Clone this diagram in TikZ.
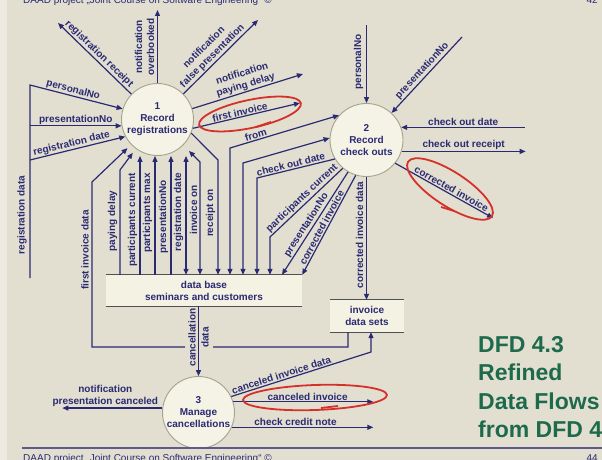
\documentclass[tikz,border=0pt]{standalone}
\usepackage{fontspec}
\setmainfont{Liberation Sans}
\usetikzlibrary{arrows.meta,calc}

\definecolor{bg}{HTML}{E2DFD1}
\definecolor{strip}{HTML}{ECEAE1}
\definecolor{ink}{HTML}{2A2A72}
\definecolor{bubble}{HTML}{F5F3E6}
\definecolor{rim}{HTML}{A5A28C}
\definecolor{shelf}{HTML}{F4F2E3}
\definecolor{shelfline}{HTML}{4F4F55}
\definecolor{marker}{HTML}{D6302A}
\definecolor{titlegreen}{HTML}{1E6A4C}
\definecolor{footline}{HTML}{5E5A8E}

\begin{document}
\begin{tikzpicture}[x=1pt, y=-1pt,
  every node/.style={font=\bfseries\fontsize{10}{12}\selectfont, text=ink, inner sep=1pt},
  process/.style={circle, draw=rim, line width=0.9pt, fill=bubble, minimum size=72pt,
                  inner sep=0pt, align=center},
  datastore/.style={rectangle, fill=shelf, inner sep=0pt, align=center},
  shelfedge/.style={draw=shelfline, line width=1.3pt},
  flow/.style={draw=ink, line width=1.2pt, -{Triangle[length=6pt,width=5pt]}},
  flowboth/.style={draw=ink, line width=1.2pt,
                   {Triangle[length=6pt,width=5pt]}-{Triangle[length=6pt,width=5pt]}},
  vlabel/.style={rotate=90, anchor=south},
  ring/.style={draw=marker, line width=1.8pt},
  slidetext/.style={font=\fontsize{10}{12}\selectfont, text=ink, inner sep=0pt},
  headline/.style={font=\bfseries\fontsize{23}{28}\selectfont, text=titlegreen,
                   inner sep=0pt, anchor=base west},
]
\useasboundingbox (0,0) rectangle (602,460);
\fill[bg] (0,0) rectangle (602,460);
\fill[strip] (0,0) rectangle (7,460);

\begin{scope}
\clip (0,0) rectangle (602,460);

% slide header
\node[slidetext, anchor=base west] (hdr) at (23,3.5) {DAAD project „Joint Course on Software Engineering“ ©};
\node[slidetext, anchor=base east] (hdrno) at (598,3.5) {42};

% title block
\node[headline] (t1) at (478,352) {DFD 4.3};
\node[headline] (t2) at (478,380) {Refined};
\node[headline] (t3) at (478,409) {Data Flows};
\node[headline] (t4) at (478,437) {from DFD 4};

% data stores
\node[datastore, minimum width=196pt, minimum height=31pt] (db) at (204,290.5)
  {data base\\seminars and customers};
\node[datastore, minimum width=74pt, minimum height=32pt] (inv) at (367,316)
  {invoice\\data sets};
\draw[shelfedge] (db.north west) -- (db.north east) (db.south west) -- (db.south east);
\draw[shelfedge] (inv.north west) -- (inv.north east) (inv.south west) -- (inv.south east);

% processes
\node[process] (c1) at (157.5,119.5) {1\\Record\\registrations};
\node[process, minimum size=73pt] (c2) at (366.5,140) {2\\Record\\check outs};
\node[process] (c3) at (198.5,412.5) {3\\Manage\\cancellations};

% free ends and bends
\coordinate (rrOut) at (58,23);
\coordinate (obOut) at (157.5,10);
\coordinate (fpOut) at (258,20);
\coordinate (pdOut) at (303,74);
\coordinate (fiOut) at (300,103);
\coordinate (rdTop) at (30,85);
\coordinate (rdBot) at (30,278);
\coordinate (rdDate) at (30,160);
\coordinate (pn2In) at (366.5,25);
\coordinate (pr2In) at (462,37);
\coordinate (codIn) at ($(c2.20)+(124,0)$);
\coordinate (corOut) at ($(c2.-18)+(124,0)$);
\coordinate (ciOut) at (493,218);
\coordinate (npcOut) at ($(c3.173)+(-100,0)$);
\coordinate (cinvOut) at ($(c3.17)+(140,0)$);
\coordinate (ccnOut) at ($(c3.-24)+(141.5,0)$);
\coordinate (fiBend) at (92,182);
\coordinate (fiLow) at (92,347);
\coordinate (fiCorner) at (348,347);
\coordinate (pdBend) at (120,170);
\coordinate (ioBend) at (200,162);
\coordinate (roBend) at (218,160);
\coordinate (frBend) at (230,148);
\coordinate (unBend) at (243,163);
\coordinate (cdBend) at (257,178);
\coordinate (pcBend) at (270,237);
\coordinate (cidBend) at (371,352);

% flows of process 1
\draw[flow] (c1) -- node[pos=0.5, above, sloped]{registration receipt} (rrOut);
\draw[flow] (c1) -- (obOut);
\node[vlabel, align=center] at (155.5,47) {notification\\overbooked};
\draw[flow] (c1) -- node[pos=0.45, above, sloped, align=center]{notification\\false presentation} (fpOut);
\draw[flow] (c1) -- node[pos=0.5, above, sloped, align=center]{notification\\paying delay} (pdOut);
\draw[flow] (c1.-14) -- node[pos=0.45, above, sloped, inner sep=0.5pt]{first invoice} (fiOut);

\draw[flow] (rdBot) -- (rdTop) -- node[pos=0.45, above, sloped, inner sep=0.5pt]{personalNo} (c1.163);
\draw[flow] (rdTop |- c1.190) -- node[above]{presentationNo} (c1.190);
\draw[flow] (rdDate) -- node[pos=0.45, above, sloped, inner sep=0.5pt]{registration date} (c1.208);
\node[vlabel] at (28,215) {registration data};

\draw[flow, shorten >=5pt] (inv.south -| fiCorner) -- (fiCorner) -- (213,347)
      (185,347) -- (fiLow) -- (fiBend) -- (c1);
\node[vlabel] at (90,250) {first invoice data};

\draw[flow, shorten >=5pt] (db.north -| pdBend) -- (pdBend) -- (c1);
\node[vlabel] at (118.5,221) {paying delay};
\draw[flow] (db.north -| 140,0) -- (c1.south -| 140,0);
\node[vlabel] at (138.5,220) {participants current};
\draw[flow] (db.north -| 155,0) -- (c1.south -| 155,0);
\node[vlabel] at (153.5,213) {participants max};
\draw[flow] (db.north -| 171,0) -- (c1.south -| 171,0);
\node[vlabel] at (169.5,217) {presentationNo};
\draw[flowboth] (db.north -| 186,0) -- (c1.south -| 186,0);
\node[vlabel] at (184.5,212) {registration date};
\draw[flowboth, shorten >=8pt] (db.north -| ioBend) -- (ioBend) -- (c1);
\node[vlabel] at (198.5,210) {invoice on};
\draw[flow] (c1.-22) -- (roBend) -- (db.north -| roBend);
\node[vlabel] at (216.5,213) {receipt on};

% flows of process 2
\draw[flowboth] (db.north -| frBend) -- (frBend) -- node[pos=0.25, above, sloped]{from} (c2.138);
\draw[flowboth] (db.north -| unBend) -- (unBend) -- (c2.177);
\draw[flow] (c2.211) -- node[pos=0.55, above, sloped]{check out date} (cdBend) -- (db.north -| cdBend);
\draw[flow] (c2.230) -- node[pos=0.5, above, sloped]{participants current} (pcBend) -- (db.north -| pcBend);
\draw[flow] (c2.240) -- node[pos=0.55, above, sloped]{presentationNo} (db.north -| 282,0);
\draw[flow] (c2.253) -- node[pos=0.55, above, sloped]{corrected invoice} (db.north east);

\draw[flow] (pn2In) -- (c2);
\node[vlabel] at (364.5,62) {personalNo};
\draw[flow] (pr2In) -- node[pos=0.5, above, sloped]{presentationNo} (c2);
\draw[flow] (codIn) -- node[midway, above]{check out date} (c2.20);
\draw[flow] (c2.-18) -- node[midway, above]{check out receipt} (corOut);
\draw[flow] (c2.-39) -- node[pos=0.55, above, sloped]{corrected invoice} (ciOut);
\draw[flow] (c2.south) -- (c2.south |- inv.north);
\node[vlabel] at (364.5,235) {corrected invoice data};

% flows of process 3
\draw[flow] (db.south -| c3.north) -- node[pos=0.45, rotate=90, align=center,
      font=\bfseries\fontsize{10}{13}\selectfont]{cancellation\\data} (c3.north);
\draw[flow] (c3.26) -- node[pos=0.37, above, sloped]{canceled invoice data} (cidBend) -- (inv.south -| cidBend);
\draw[flow] (c3.17) -- node[pos=0.53, above]{canceled invoice} (cinvOut);
\draw[flow] (c3.-24) -- node[pos=0.45, above]{check credit note} (ccnOut);
\draw[flow] (c3.173) -- node[pos=0.57, above, align=center]{notification\\presentation canceled} (npcOut);

% hand-drawn red markings
\draw[ring, rotate around={12:(250,114)}] (250,114) ellipse [x radius=52, y radius=14];
\draw[ring] (256,127) -- (271,122);
\draw[ring, rotate around={-33:(450,189)}] (450,189) ellipse [x radius=50, y radius=17];
\draw[ring] (441,207) -- (454,211);
\draw[ring, rotate around={2:(315,397.5)}] (315,397.5) ellipse [x radius=72, y radius=12.5];
\draw[ring] (321,408) -- (338,406);

% slide footer
\draw[draw=footline, line width=1.5pt] (22,448) -- (602,448);
\node[slidetext, anchor=base west] (ftr) at (23,461) {DAAD project „Joint Course on Software Engineering“ ©};
\node[slidetext, anchor=base east] (ftrno) at (598,461) {44};
\end{scope}
\end{tikzpicture}
\end{document}
